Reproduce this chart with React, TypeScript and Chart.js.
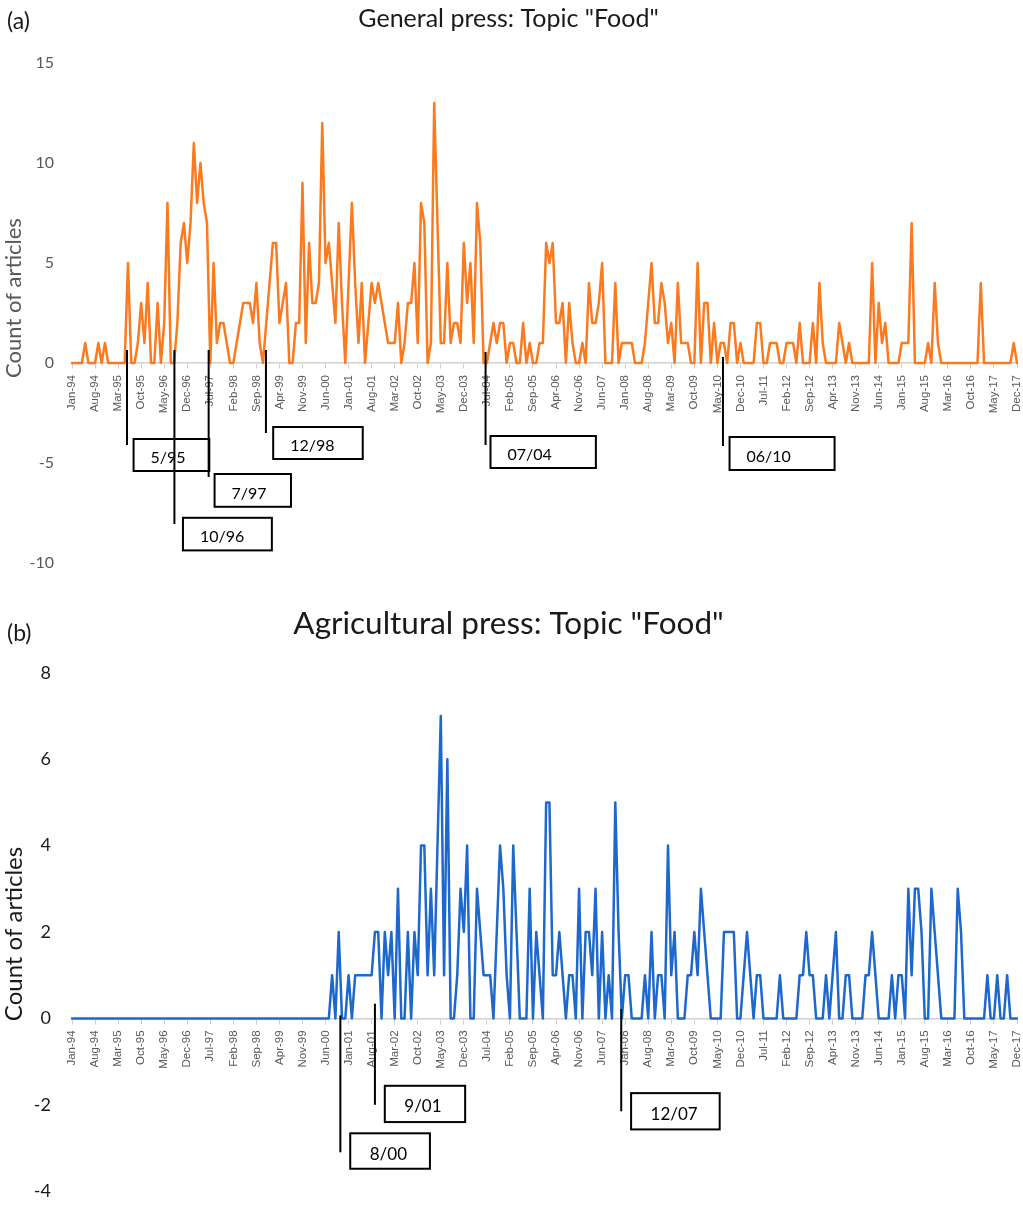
import React, { useEffect, useRef } from 'react';
import { Chart, registerables } from 'chart.js';

Chart.register(...registerables);

// ---------- categories ----------
const MONTH_NAMES = ['Jan', 'Feb', 'Mar', 'Apr', 'May', 'Jun', 'Jul', 'Aug', 'Sep', 'Oct', 'Nov', 'Dec'];
const YEARS = ['94', '95', '96', '97', '98', '99', '00', '01', '02', '03', '04', '05',
  '06', '07', '08', '09', '10', '11', '12', '13', '14', '15', '16', '17'];
const CATEGORIES: string[] = [];
for (const yy of YEARS) for (const m of MONTH_NAMES) CATEGORIES.push(`${m}-${yy}`);
const TICK_EVERY = 7; // a label every 7 months: Jan-94, Aug-94, Mar-95 ...

// ---------- series (count of articles per month, Jan-94 .. Dec-17) ----------
const GENERAL_PRESS = [
  0, 0, 0, 0, 1, 0, 0, 0, 1, 0,
  1, 0, 0, 0, 0, 0, 0, 5, 0, 0,
  1, 3, 1, 4, 0, 0, 3, 0, 2, 8,
  0, 0, 2, 6, 7, 5, 7, 11, 8, 10,
  8, 7, 0, 5, 1, 2, 2, 1, 0, 0,
  1, 2, 3, 3, 3, 2, 4, 1, 0, 2,
  4, 6, 6, 2, 3, 4, 0, 0, 2, 2,
  9, 1, 6, 3, 3, 4, 12, 5, 6, 4,
  2, 7, 3, 0, 4, 8, 4, 1, 4, 0,
  2, 4, 3, 4, 3, 2, 1, 1, 1, 3,
  0, 1, 3, 3, 5, 1, 8, 7, 0, 1,
  13, 7, 1, 1, 5, 1, 2, 2, 1, 6,
  3, 5, 1, 8, 6, 0, 0, 1, 2, 1,
  2, 2, 0, 1, 1, 0, 0, 2, 0, 1,
  0, 0, 1, 1, 6, 5, 6, 2, 2, 3,
  0, 3, 1, 0, 0, 1, 0, 4, 2, 2,
  3, 5, 0, 0, 0, 4, 0, 1, 1, 1,
  1, 0, 0, 0, 1, 3, 5, 2, 2, 4,
  3, 1, 2, 0, 4, 1, 1, 1, 0, 0,
  5, 0, 3, 3, 0, 2, 0, 1, 1, 0,
  2, 2, 0, 1, 0, 0, 0, 0, 2, 2,
  0, 0, 1, 1, 1, 0, 0, 1, 1, 1,
  0, 2, 0, 0, 0, 2, 0, 4, 1, 0,
  0, 0, 0, 2, 1, 0, 1, 0, 0, 0,
  0, 0, 0, 5, 0, 3, 1, 2, 0, 0,
  0, 0, 1, 1, 1, 7, 0, 0, 0, 0,
  1, 0, 4, 1, 0, 0, 0, 0, 0, 0,
  0, 0, 0, 0, 0, 0, 4, 0, 0, 0,
  0, 0, 0, 0, 0, 0, 1, 0,
];

const AGRICULTURAL_PRESS = [
  0, 0, 0, 0, 0, 0, 0, 0, 0, 0,
  0, 0, 0, 0, 0, 0, 0, 0, 0, 0,
  0, 0, 0, 0, 0, 0, 0, 0, 0, 0,
  0, 0, 0, 0, 0, 0, 0, 0, 0, 0,
  0, 0, 0, 0, 0, 0, 0, 0, 0, 0,
  0, 0, 0, 0, 0, 0, 0, 0, 0, 0,
  0, 0, 0, 0, 0, 0, 0, 0, 0, 0,
  0, 0, 0, 0, 0, 0, 0, 0, 0, 1,
  0, 2, 0, 0, 1, 0, 1, 1, 1, 1,
  1, 1, 2, 2, 0, 2, 1, 2, 0, 3,
  0, 0, 2, 0, 2, 1, 4, 4, 1, 3,
  1, 4, 7, 1, 6, 0, 0, 1, 3, 2,
  4, 0, 0, 3, 2, 1, 1, 1, 0, 2,
  4, 3, 1, 0, 4, 2, 0, 0, 0, 3,
  0, 2, 1, 0, 5, 5, 1, 1, 2, 1,
  0, 1, 1, 0, 3, 0, 2, 2, 1, 3,
  0, 2, 0, 1, 0, 5, 2, 0, 1, 1,
  0, 0, 0, 0, 1, 0, 2, 0, 1, 1,
  0, 4, 1, 2, 0, 0, 0, 1, 1, 2,
  1, 3, 2, 1, 0, 0, 0, 0, 2, 2,
  2, 2, 0, 0, 1, 2, 1, 0, 1, 1,
  0, 0, 0, 0, 0, 1, 0, 0, 0, 0,
  0, 1, 1, 2, 1, 1, 0, 0, 0, 1,
  0, 1, 2, 0, 0, 1, 1, 0, 0, 0,
  0, 1, 1, 2, 1, 0, 0, 0, 0, 1,
  0, 1, 1, 0, 3, 1, 3, 3, 2, 0,
  0, 3, 2, 1, 0, 0, 0, 0, 0, 3,
  2, 0, 0, 0, 0, 0, 0, 0, 1, 0,
  0, 1, 0, 0, 1, 0, 0, 0,
];

// ---------- y tick values ----------
const Y_TICKS_A = [-10, -5, 0, 5, 10, 15];
const Y_TICKS_B = [-4, -2, 0, 2, 4, 6, 8];

// ---------- event annotations (month index / value coordinates) ----------
const EVENTS_A = [
  { label: '5/95', at: 16.7, from: 0.65, to: -4.1, left: 18.7, right: 41.7, top: -3.8, bottom: -5.4 },
  { label: '10/96', at: 31.1, from: 0.65, to: -8.05, left: 33.7, right: 60.7, top: -7.74, bottom: -9.37 },
  { label: '7/97', at: 41.5, from: 0.65, to: -5.7, left: 43.3, right: 66.5, top: -5.55, bottom: -7.19 },
  { label: '12/98', at: 58.9, from: 0.65, to: -3.5, left: 61.1, right: 88.3, top: -3.2, bottom: -4.8 },
  { label: '07/04', at: 125.6, from: 0.55, to: -4.1, left: 127.1, right: 159.1, top: -3.65, bottom: -5.25 },
  { label: '06/10', at: 197.7, from: 0.3, to: -4.15, left: 199.7, right: 231.6, top: -3.7, bottom: -5.35 },
];
const EVENTS_B = [
  { label: '8/00', at: 81.5, from: 0.07, to: -3.1, left: 84.5, right: 108.7, top: -2.66, bottom: -3.48 },
  { label: '9/01', at: 92.0, from: 0.34, to: -2.0, left: 95.0, right: 119.4, top: -1.56, bottom: -2.4 },
  { label: '12/07', at: 166.8, from: 0.22, to: -2.15, left: 169.8, right: 196.7, top: -1.73, bottom: -2.57 },
];

// ---------- plugins ----------
const eventPlugin = {
  id: 'eventBoxes',
  afterDatasetsDraw(chart: any, _args: any, opts: any) {
    const { ctx } = chart;
    const xs = chart.scales.x;
    const ys = chart.scales.y;
    ctx.save();
    for (const ev of opts.items || []) {
      const lx = xs.getPixelForValue(ev.at);
      ctx.strokeStyle = '#000';
      ctx.lineWidth = 2;
      ctx.beginPath();
      ctx.moveTo(lx, ys.getPixelForValue(ev.from));
      ctx.lineTo(lx, ys.getPixelForValue(ev.to));
      ctx.stroke();
      const x1 = xs.getPixelForValue(ev.left);
      const x2 = xs.getPixelForValue(ev.right);
      const y1 = ys.getPixelForValue(ev.top);
      const y2 = ys.getPixelForValue(ev.bottom);
      ctx.fillStyle = '#fff';
      ctx.fillRect(x1, y1, x2 - x1, y2 - y1);
      ctx.strokeRect(x1, y1, x2 - x1, y2 - y1);
      ctx.fillStyle = '#000';
      ctx.font = opts.font;
      ctx.textAlign = 'left';
      ctx.textBaseline = 'middle';
      ctx.fillText(ev.label, x1 + opts.inset, (y1 + y2) / 2 + 3);
    }
    ctx.restore();
  },
};

const sideTitlePlugin = {
  id: 'sideTitle',
  afterDraw(chart: any, _args: any, o: any) {
    const { ctx } = chart;
    ctx.save();
    ctx.translate(o.x, o.y);
    ctx.rotate(-Math.PI / 2);
    ctx.font = o.font;
    ctx.fillStyle = o.color;
    ctx.textAlign = 'center';
    ctx.textBaseline = 'middle';
    ctx.fillText(o.text, 0, 0);
    ctx.restore();
  },
};

type PanelSpec = {
  title: string;
  titleSize: number;
  titlePad: { top: number; bottom: number };
  values: number[];
  color: string;
  yTicks: number[];
  yFont: number;
  yColor: string;
  yPad: number;
  padBottom: number;
  events: any[];
  eventFont: string;
  eventInset: number;
  sideTitle: any;
};

function buildConfig(p: PanelSpec): any {
  const step = p.yTicks[1] - p.yTicks[0];
  return {
    type: 'line',
    data: {
      labels: CATEGORIES,
      datasets: [{
        data: p.values,
        borderColor: p.color,
        backgroundColor: p.color,
        borderWidth: 2.5,
        pointRadius: 0,
        tension: 0,
        borderJoinStyle: 'round',
        borderCapStyle: 'round',
        fill: false,
      }],
    },
    options: {
      responsive: false,
      animation: false,
      devicePixelRatio: 1,
      layout: { padding: { left: 0, right: 6, top: 0, bottom: p.padBottom } },
      plugins: {
        legend: { display: false },
        tooltip: { enabled: false },
        title: {
          display: true,
          text: p.title,
          color: '#1a1a1a',
          font: { family: 'Lato', size: p.titleSize, weight: 'normal' },
          padding: p.titlePad,
        },
        eventBoxes: { items: p.events, font: p.eventFont, inset: p.eventInset },
        sideTitle: p.sideTitle,
      },
      scales: {
        x: {
          type: 'category',
          position: { y: 0 },
          offset: false,
          grid: { display: true, drawOnChartArea: false, drawTicks: true, tickLength: 5, color: '#d0d0d0', lineWidth: 1 },
          border: { display: true, color: '#d0d0d0', width: 1.5 },
          ticks: {
            autoSkip: false,
            minRotation: 90,
            maxRotation: 90,
            padding: 7,
            color: '#595959',
            font: { family: 'Liberation Sans', size: 11.5 },
            callback: (v: number) => CATEGORIES[v],
          },
          afterBuildTicks: (s: any) => {
            s.ticks = s.ticks.filter((t: any) => t.value % TICK_EVERY === 0);
          },
          afterFit: (s: any) => {
            s.paddingLeft = 0;
            s.paddingRight = 0;
          },
        },
        y: {
          min: p.yTicks[0],
          max: p.yTicks[p.yTicks.length - 1],
          grid: { display: false, drawTicks: false },
          border: { display: false },
          ticks: {
            stepSize: step,
            padding: p.yPad,
            color: p.yColor,
            font: { family: 'Lato', size: p.yFont },
          },
          afterFit: (s: any) => {
            s.width = 72;
          },
        },
      },
    },
    plugins: [eventPlugin, sideTitlePlugin],
  };
}

const PANEL_A: PanelSpec = {
  title: 'General press: Topic "Food"',
  titleSize: 25,
  titlePad: { top: 4, bottom: 29 },
  values: GENERAL_PRESS,
  color: '#FB7A1E',
  yTicks: Y_TICKS_A,
  yFont: 16,
  yColor: '#595959',
  yPad: 18,
  padBottom: 32,
  events: EVENTS_A,
  eventFont: '16px Lato',
  eventInset: 17,
  sideTitle: { text: 'Count of articles', x: 14, y: 298, font: '22px Lato', color: '#595959' },
};

const PANEL_B: PanelSpec = {
  title: 'Agricultural press: Topic "Food"',
  titleSize: 31.5,
  titlePad: { top: 10, bottom: 30 },
  values: AGRICULTURAL_PRESS,
  color: '#1C68CC',
  yTicks: Y_TICKS_B,
  yFont: 18,
  yColor: '#1a1a1a',
  yPad: 21,
  padBottom: 13,
  events: EVENTS_B,
  eventFont: '17px Lato',
  eventInset: 19.5,
  sideTitle: { text: 'Count of articles', x: 14, y: 339, font: '24px Lato', color: '#1a1a1a' },
};

function Panel({ spec, width, height, top, tag, tagTop }: { spec: PanelSpec; width: number; height: number; top: number; tag: string; tagTop: number }) {
  const ref = useRef<HTMLCanvasElement | null>(null);
  useEffect(() => {
    if (!ref.current) return;
    const chart = new Chart(ref.current, buildConfig(spec));
    return () => chart.destroy();
  }, [spec]);
  return (
    <div style={{ position: 'absolute', left: 0, top, width, height }}>
      <canvas ref={ref} width={width} height={height} style={{ display: 'block', width, height }} />
      <div style={{ position: 'absolute', left: 7, top: tagTop, fontFamily: 'Lato, sans-serif', fontSize: 23, color: '#1a1a1a', lineHeight: '27px' }}>{tag}</div>
    </div>
  );
}

export default function App() {
  return (
    <div style={{ position: 'absolute', left: 0, top: 0, width: 1023, height: 1223, background: '#fff', overflow: 'hidden' }}>
      <Panel spec={PANEL_A} width={1023} height={595} top={0} tag="(a)" tagTop={7} />
      <Panel spec={PANEL_B} width={1023} height={628} top={595} tag="(b)" tagTop={24} />
    </div>
  );
}
